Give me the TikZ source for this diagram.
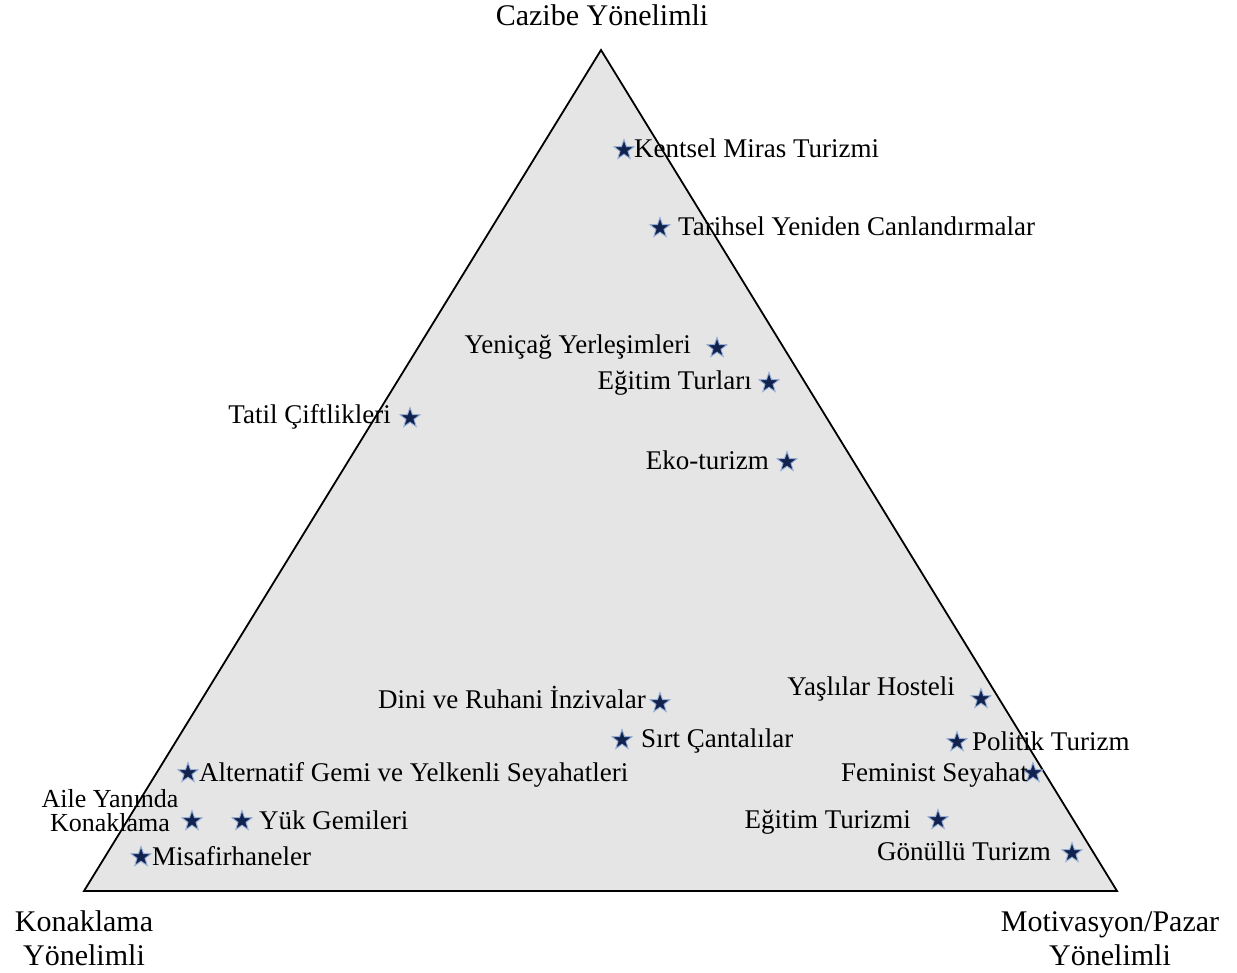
\documentclass[tikz,border=0pt]{standalone}
\usepackage{fontspec}
\setmainfont{Liberation Serif}
\usetikzlibrary{shapes.geometric}
\definecolor{trifill}{RGB}{229,229,229}
\definecolor{starnavy}{RGB}{18,34,78}
\definecolor{starglow}{RGB}{150,175,215}
\tikzset{
  tri/.style={draw=black, line width=1.8pt, fill=trifill, line join=miter},
  st/.style={star, star points=5, star point ratio=2.5, minimum size=21pt, inner sep=0pt,
             fill=starnavy, draw=starglow, line width=0.9pt},
  lbl/.style={inner sep=0pt, font=\fontsize{27}{30}\selectfont, text height=0.75em, text depth=0.15em, yshift=-5pt},
  corner/.style={inner sep=0pt, align=center, font=\fontsize{30}{34}\selectfont}
}
\begin{document}
\begin{tikzpicture}[x=1pt,y=-1pt]
\useasboundingbox (0,0) rectangle (1237,973);
% triangle
\coordinate (A) at (601,50);
\coordinate (B) at (84,891);
\coordinate (C) at (1117,891);
\draw[tri] (A) -- (B) -- (C) -- cycle;
% corner labels
\node[corner, anchor=base] (cTop) at (602,26) {Cazibe Yönelimli};
\node[corner] (cLeft) at (84,938) {Konaklama\\Yönelimli};
\node[corner] (cRight) at (1110,939) {Motivasyon/Pazar\\Yönelimli};
% items
\node[st] (s1) at (624,150) {};
\node[lbl, anchor=west] (t1) at (634,150) {Kentsel Miras Turizmi};
\node[st] (s2) at (660,228) {};
\node[lbl, anchor=west] (t2) at (678,228) {Tarihsel Yeniden Canlandırmalar};
\node[st] (s3) at (717,348) {};
\node[lbl, anchor=east] (t3) at (691,346) {Yeniçağ Yerleşimleri};
\node[st] (s4) at (769,383) {};
\node[lbl, anchor=east] (t4) at (752,382) {Eğitim Turları};
\node[st] (s5) at (410,418) {};
\node[lbl, anchor=east] (t5) at (391,416) {Tatil Çiftlikleri};
\node[st] (s6) at (787,462) {};
\node[lbl, anchor=east] (t6) at (769,461) {Eko-turizm};
\node[st] (s7) at (660,703) {};
\node[lbl, anchor=east] (t7) at (646,700) {Dini ve Ruhani İnzivalar};
\node[st] (s8) at (622,740) {};
\node[lbl, anchor=west] (t8) at (641,739) {Sırt Çantalılar};
\node[st] (s9) at (981,699) {};
\node[lbl, anchor=east] (t9) at (955,687) {Yaşlılar Hosteli};
\node[st] (s10) at (957,742) {};
\node[lbl, anchor=west] (t10) at (972,742) {Politik Turizm};
\node[st] (s11) at (1033,773) {};
\node[lbl, anchor=east] (t11) at (1028,773) {Feminist Seyahat};
\node[st] (s12) at (938,820) {};
\node[lbl, anchor=east] (t12) at (911,820) {Eğitim Turizmi};
\node[st] (s13) at (1072,853) {};
\node[lbl, anchor=east] (t13) at (1051,852) {Gönüllü Turizm};
\node[st] (s14) at (188,773) {};
\node[lbl, anchor=west] (t14) at (199,773) {Alternatif Gemi ve Yelkenli Seyahatleri};
\node[st] (s15) at (192,821) {};
\node[inner sep=0pt, align=center, font=\fontsize{26}{24}\selectfont] (t15) at (110,811) {Aile Yanında\\Konaklama};
\node[st] (s16) at (242,821) {};
\node[lbl, anchor=west] (t16) at (259,821) {Yük Gemileri};
\node[st] (s17) at (141,857) {};
\node[lbl, anchor=west] (t17) at (152,857) {Misafirhaneler};
\end{tikzpicture}
\end{document}
